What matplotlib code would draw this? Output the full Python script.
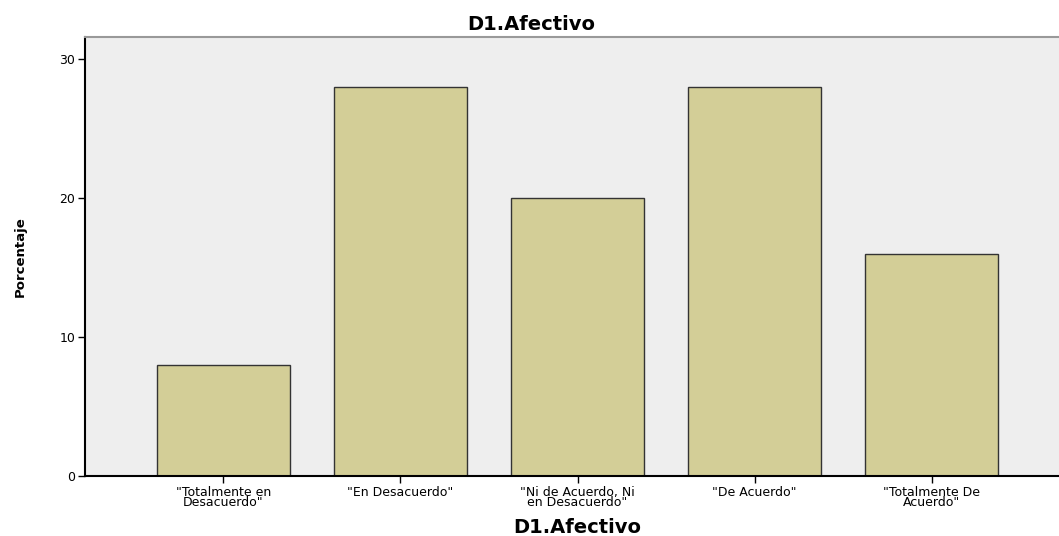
import matplotlib.pyplot as plt

categories = ['"Totalmente en\nDesacuerdo"', '"En Desacuerdo"', '"Ni de Acuerdo, Ni\nen Desacuerdo"',
              '"De Acuerdo"', '"Totalmente De\nAcuerdo"']
porcentaje = [8, 28, 20, 28, 16]
yticks = [0, 10, 20, 30]

plt.rcParams['font.family'] = ['DejaVu Sans']

fig = plt.figure(figsize=(10.59, 5.36), dpi=100)
ax = fig.add_axes([0.0803, 0.112, 0.9197, 0.819])
ax.set_facecolor('#eeeeee')

x = list(range(len(categories)))
ax.bar(x, porcentaje, width=0.75, color='#d3ce97', edgecolor='#333333', linewidth=1.0, zorder=2)

ax.set_xlim(-0.782, 4.72)
ax.set_ylim(0, 31.6)
ax.set_yticks(yticks)
ax.set_xticks(x)
ax.set_xticklabels(categories, fontsize=9, linespacing=0.75)
ax.tick_params(axis='both', direction='out', length=5, width=1, labelsize=9, color='black', pad=2)

ax.spines['right'].set_visible(False)
ax.spines['top'].set_color('#999999')
ax.spines['top'].set_linewidth(1.5)
ax.spines['left'].set_linewidth(1.5)
ax.spines['bottom'].set_linewidth(1.5)

ax.set_ylabel('Porcentaje', fontsize=9.5, fontweight='bold')
ax.yaxis.set_label_coords(-0.06, 0.5)
ax.set_xlabel('D1.Afectivo', fontsize=14, fontweight='bold')
ax.xaxis.set_label_coords(0.505, -0.095)
fig.text(0.502, 0.955, 'D1.Afectivo', fontsize=14, fontweight='bold', ha='center', va='center')

fig.savefig('out.png', dpi=100)
